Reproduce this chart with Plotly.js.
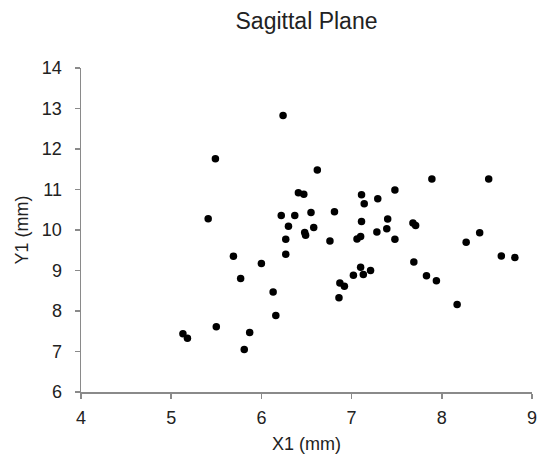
<!DOCTYPE html>
<html>
<head>
<meta charset="utf-8">
<script src="https://cdn.plot.ly/plotly-3.0.1.min.js"></script>
<style>html,body{margin:0;padding:0;background:#fff;}#chart{width:545px;height:460px;}</style>
</head>
<body>
<div id="chart"></div>
<script>
const x1 = [5.13, 5.18, 5.41, 5.49, 5.50, 5.69, 5.77, 5.81, 5.87, 6.00,
            6.13, 6.16, 6.22, 6.24, 6.27, 6.27, 6.30, 6.37, 6.41, 6.47,
            6.48, 6.49, 6.55, 6.58, 6.62, 6.76, 6.81, 6.86, 6.87, 6.92,
            7.02, 7.06, 7.10, 7.10, 7.11, 7.11, 7.13, 7.14, 7.21, 7.28,
            7.29, 7.39, 7.40, 7.48, 7.48, 7.68, 7.71, 7.69, 7.83, 7.89,
            7.94, 8.17, 8.27, 8.42, 8.52, 8.66, 8.81];
const y1 = [7.44, 7.33, 10.28, 11.76, 7.61, 9.35, 8.80, 7.05, 7.47, 9.17,
            8.47, 7.89, 10.36, 12.83, 9.77, 9.40, 10.09, 10.36, 10.92, 10.88,
            9.94, 9.87, 10.43, 10.06, 11.48, 9.73, 10.45, 8.33, 8.69, 8.61,
            8.88, 9.78, 9.84, 9.08, 10.21, 10.87, 8.90, 10.65, 9.00, 9.95,
            10.77, 10.03, 10.27, 10.99, 9.77, 10.17, 10.11, 9.21, 8.87, 11.26,
            8.75, 8.16, 9.70, 9.93, 11.26, 9.36, 9.32];
const chartTitle = "Sagittal Plane";
const xTitle = "X1 (mm)";
const yTitle = "Y1 (mm)";

const font = "Arial, 'Liberation Sans', sans-serif";
const trace = {
  x: x1, y: y1, type: 'scatter', mode: 'markers',
  marker: {color: '#000', size: 7.5, symbol: 'circle'},
  hoverinfo: 'skip'
};
const axisCommon = {
  showgrid: false, zeroline: false, showline: true,
  linecolor: '#8a8a8a', linewidth: 1.5,
  ticks: 'outside', ticklen: 5, tickwidth: 1.5, tickcolor: '#8a8a8a',
  tickfont: {family: font, size: 18, color: '#222'},
  dtick: 1, fixedrange: true
};
const layout = {
  width: 545, height: 460,
  margin: {l: 80.5, r: 13.3, t: 67.7, b: 67.5},
  paper_bgcolor: '#fff', plot_bgcolor: '#fff',
  showlegend: false,
  title: {text: chartTitle, x: 0.5, xref: 'paper', xanchor: 'center',
          y: 0.955, yref: 'container', yanchor: 'middle',
          font: {family: font, size: 23, color: '#222'}},
  xaxis: Object.assign({}, axisCommon, {range: [4, 9], tick0: 4, ticklabelstandoff: 4,
          title: {text: xTitle, standoff: 10, font: {family: font, size: 18, color: '#222'}}}),
  yaxis: Object.assign({}, axisCommon, {range: [6, 14], tick0: 6, ticklabelstandoff: 9,
          title: {text: yTitle, standoff: 8, font: {family: font, size: 18, color: '#222'}}})
};
Plotly.newPlot('chart', [trace], layout, {displayModeBar: false, staticPlot: true});
</script>
</body>
</html>
